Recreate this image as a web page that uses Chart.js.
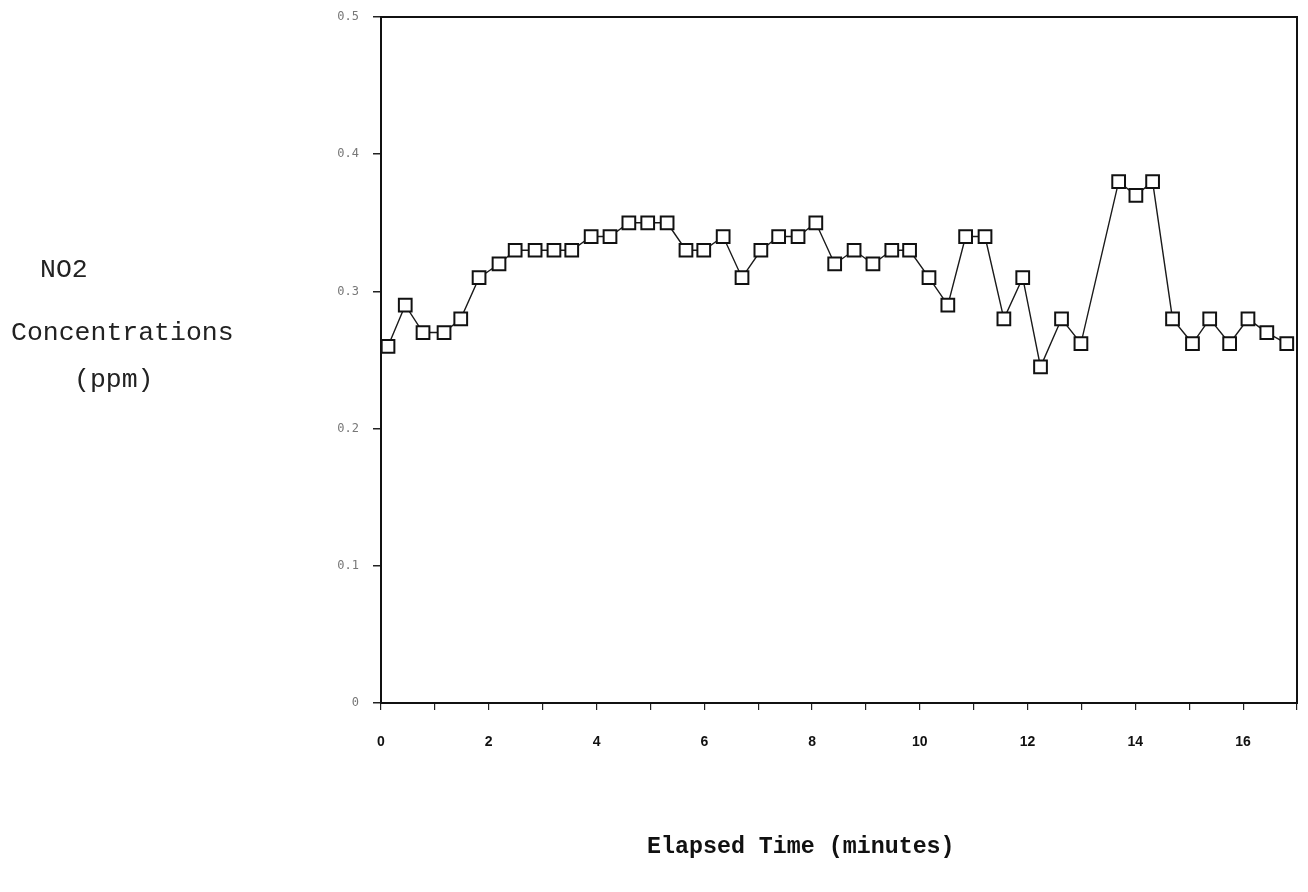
<!DOCTYPE html>
<html>
<head>
<meta charset="utf-8">
<script src="https://cdn.jsdelivr.net/npm/chart.js@4/dist/chart.umd.min.js"></script>
<style>
  html, body { margin: 0; padding: 0; background: #fff; }
  #wrap { position: relative; width: 1308px; height: 892px; }
  canvas { position: absolute; left: 0; top: 0; }
  .lbl { position: absolute; font-family: "Liberation Mono", "DejaVu Sans Mono", monospace; color: #222; white-space: nowrap; }
</style>
</head>
<body>
<div id="wrap">
  <canvas id="c" width="1308" height="892"></canvas>
  <div class="lbl" id="t1" style="left:40px; top:257px; font-size:26.5px; line-height:26px;">NO2</div>
  <div class="lbl" id="t2" style="left:11px; top:320px; font-size:26.5px; line-height:26px;">Concentrations</div>
  <div class="lbl" id="t3" style="left:74px; top:367px; font-size:26.5px; line-height:26px;">(ppm)</div>
  <div class="lbl" id="t4" style="left:647px; top:836px; font-size:23.3px; line-height:23px; font-weight:bold; color:#111;">Elapsed Time (minutes)</div>
</div>
<script>
// Elapsed time (minutes) of each sample
const times = [0.13,0.45,0.78,1.17,1.48,1.82,2.19,2.49,2.86,3.21,3.54,3.90,4.25,4.60,4.95,5.31,5.66,5.99,6.35,6.70,7.05,7.38,7.74,8.07,8.42,8.78,9.13,9.48,9.81,10.17,10.52,10.85,11.21,11.56,11.91,12.24,12.63,12.99,13.69,14.01,14.32,14.69,15.06,15.38,15.75,16.09,16.44,16.81];
// NO2 concentrations (ppm)
const no2 = [0.26,0.29,0.27,0.27,0.28,0.31,0.32,0.33,0.33,0.33,0.33,0.34,0.34,0.35,0.35,0.35,0.33,0.33,0.34,0.31,0.33,0.34,0.34,0.35,0.32,0.33,0.32,0.33,0.33,0.31,0.29,0.34,0.34,0.28,0.31,0.245,0.28,0.262,0.38,0.37,0.38,0.28,0.262,0.28,0.262,0.28,0.27,0.262];
// Tick labels
const xTickLabels = ["0","2","4","6","8","10","12","14","16"];
const yTickLabels = ["0","0.1","0.2","0.3","0.4","0.5"];

const points = times.map((t, i) => ({ x: t, y: no2[i] }));

const framePlugin = {
  id: 'frame',
  afterDraw(chart) {
    const { ctx, chartArea: a } = chart;
    ctx.save();
    ctx.strokeStyle = '#111';
    ctx.lineWidth = 2;
    ctx.strokeRect(a.left, a.top, a.right - a.left, a.bottom - a.top);
    ctx.restore();
  }
};

new Chart(document.getElementById('c'), {
  type: 'line',
  data: {
    datasets: [{
      data: points,
      borderColor: '#1a1a1a',
      borderWidth: 1.4,
      pointStyle: 'rect',
      pointRadius: 9,
      pointBorderWidth: 2,
      pointBorderColor: '#111',
      pointBackgroundColor: '#fff',
      tension: 0,
      fill: false
    }]
  },
  options: {
    responsive: false,
    animation: false,
    events: [],
    layout: { padding: { left: 0, right: 10, top: 17, bottom: 129 } },
    plugins: { legend: { display: false }, tooltip: { enabled: false } },
    scales: {
      x: {
        type: 'linear',
        min: 0, max: 17,
        afterFit(s) { s.height = 60; s.paddingLeft = 0; s.paddingRight = 0; },
        ticks: {
          stepSize: 1,
          autoSkip: false,
          maxRotation: 0,
          padding: 24,
          color: '#111',
          font: { family: 'Liberation Sans', size: 14, weight: 'bold' },
          callback(v) { const i = xTickLabels.indexOf(String(v)); return i >= 0 ? xTickLabels[i] : ''; }
        },
        grid: { drawOnChartArea: false, drawTicks: true, tickLength: 7, color: '#222', lineWidth: 1.2 },
        border: { display: true, color: '#111', width: 2 }
      },
      y: {
        min: 0, max: 0.5,
        afterFit(s) { s.width = 381; s.paddingTop = 0; s.paddingBottom = 0; },
        ticks: {
          stepSize: 0.1,
          padding: 14,
          color: '#777',
          font: { family: 'DejaVu Sans Mono', size: 12 },
          callback(v) { const i = Math.round(v * 10); return yTickLabels[i]; }
        },
        grid: { drawOnChartArea: false, drawTicks: true, tickLength: 8, color: '#222', lineWidth: 1.5 },
        border: { display: true, color: '#111', width: 2 }
      }
    }
  },
  plugins: [framePlugin]
});
</script>
</body>
</html>
